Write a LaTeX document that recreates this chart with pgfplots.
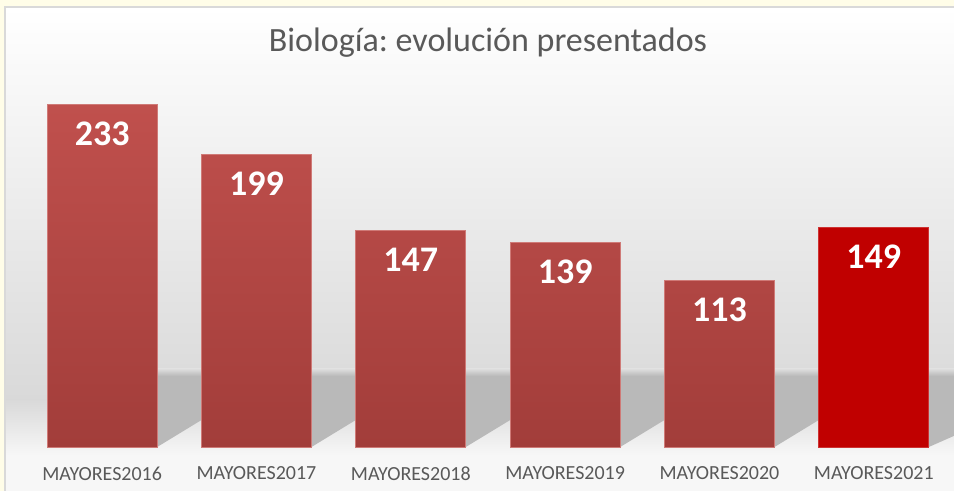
\documentclass[border=0pt]{standalone}
\usepackage{pgfplots}
\pgfplotsset{compat=1.18}
\usepackage{fontspec}
\setmainfont{Carlito}
\frenchspacing
\definecolor{outerbg}{HTML}{FFFDE8}
\definecolor{bartop}{HTML}{C0504D}
\definecolor{barbot}{HTML}{A23D3A}
\definecolor{baredge}{HTML}{CF7A77}
\definecolor{lastbar}{HTML}{C00000}
\definecolor{txt}{HTML}{595959}
\definecolor{bgmid}{HTML}{D9D9D9}
\definecolor{bglow}{HTML}{F7F7F7}
\definecolor{shadowc}{HTML}{B9B9B9}
\pgfplotstableread{
x y
0 233
1 199
2 147
3 139
4 113
}\dataA
\pgfplotstableread{
x y
5 149
}\dataB
\begin{document}
\begin{tikzpicture}[x=1pt,y=1pt]
% outer page background
\fill[outerbg] (0,0) rectangle (477,245.5);
% chart area background (px -> pt: X=px/2, Y=(491-py)/2)
\shade[top color=white, bottom color=bgmid] (2.5,45.5) rectangle (477,242);
\shade[top color=bgmid, bottom color=bglow] (2.5,18) rectangle (477,45.5);
\fill[bglow] (2.5,0) rectangle (477,18);
\draw[black!15, line width=0.6pt] (2.5,0) -- (2.5,242) -- (477,242);
% bar shadows (decorative)
\begin{scope}
\clip (0,0) rectangle (477,245.5);
\foreach \xr/\xl in {157.2/201.5, 311.5/355.8, 465.8/510.2, 620.2/664.5, 774.5/818.8, 928.8/990}{
  \fill[shadowc] (\xr/2,58) -- (\xl/2,58) -- (\xl/2,35.5) -- (\xr/2,22) -- cycle;
  \shade[top color=bgmid!90!white, bottom color=shadowc] (\xr/2,61) rectangle (\xl/2,57.5);
}
\end{scope}
\begin{axis}[
  at={(12.5pt,22pt)}, anchor=south west,
  scale only axis, width=463pt, height=191.36pt,
  xmin=-0.5, xmax=5.5, ymin=0, ymax=260,
  axis line style={draw=none},
  major tick length=0pt,
  ytick=\empty,
  xtick={0,1,2,3,4,5},
  xticklabels={MAYORES2016,MAYORES2017,MAYORES2018,MAYORES2019,MAYORES2020,MAYORES2021},
  xticklabel style={font=\fontsize{10}{12}\selectfont, text=txt, yshift=-6.3pt},
  ybar, bar width=55pt, bar shift=0pt,
  /pgf/number format/assume math mode=true,
  nodes near coords,
  nodes near coords align={below},
  every node near coord/.append style={font=\fontsize{18}{20}\selectfont\bfseries, text=white, inner sep=0pt, yshift=-8.5pt},
  clip=false,
]
\addplot[draw=baredge, line width=0.4pt, shading=axis, top color=bartop, bottom color=barbot] table[x=x,y=y]{\dataA};
\addplot[draw=lastbar!80!white, line width=0.4pt, fill=lastbar] table[x=x,y=y]{\dataB};
\end{axis}
\node[anchor=base, text=txt, font=\fontsize{17}{20}\selectfont] at (244,219.5) {Biología: evolución presentados};
\pgfresetboundingbox
\useasboundingbox (0,0) rectangle (477,245.5);
\end{tikzpicture}
\end{document}
